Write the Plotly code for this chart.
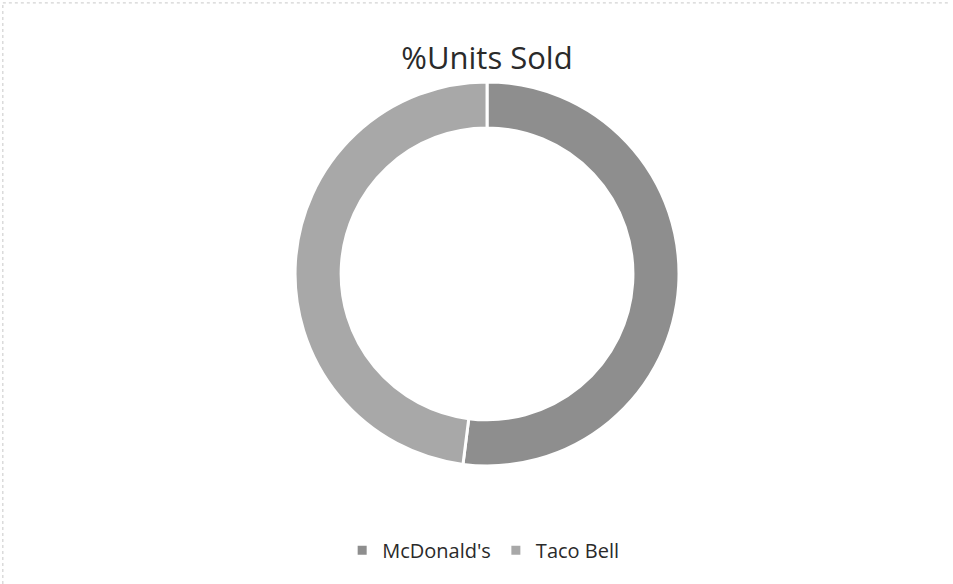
import plotly.graph_objects as go

labels = ["McDonald's", "Taco Bell"]
values = [52, 48]
colors = ["#8e8e8e", "#a8a8a8"]

fig = go.Figure(go.Pie(
    labels=labels, values=values, hole=0.76, sort=False,
    direction="clockwise", rotation=0, textinfo="none", hoverinfo="label+percent",
    marker=dict(colors=colors, line=dict(color="white", width=3)),
    domain=dict(x=[0.3096, 0.7125], y=[0.202, 0.860]),
))

fig.update_layout(
    width=953, height=584,
    margin=dict(l=0, r=0, t=0, b=0),
    paper_bgcolor="white", plot_bgcolor="white",
    title=dict(text="%Units Sold", x=0.511, xanchor="center", y=0.901, yanchor="middle",
               font=dict(family="Open Sans", size=31, color="#2a2a2a")),
    showlegend=True,
    legend=dict(orientation="h", x=0.507, xanchor="center", y=0.058, yanchor="middle",
                font=dict(family="Open Sans", size=20, color="#2a2a2a"),
                itemwidth=30),
    shapes=[
        dict(type="line", xref="paper", yref="paper", x0=0.003, x1=0.997, y0=0.995, y1=0.995,
             line=dict(color="#c8c8c8", width=1, dash="dot")),
        dict(type="line", xref="paper", yref="paper", x0=0.003, x1=0.003, y0=0.0, y1=0.995,
             line=dict(color="#c8c8c8", width=1, dash="dot")),
    ],
)

fig.write_html("out.html")
